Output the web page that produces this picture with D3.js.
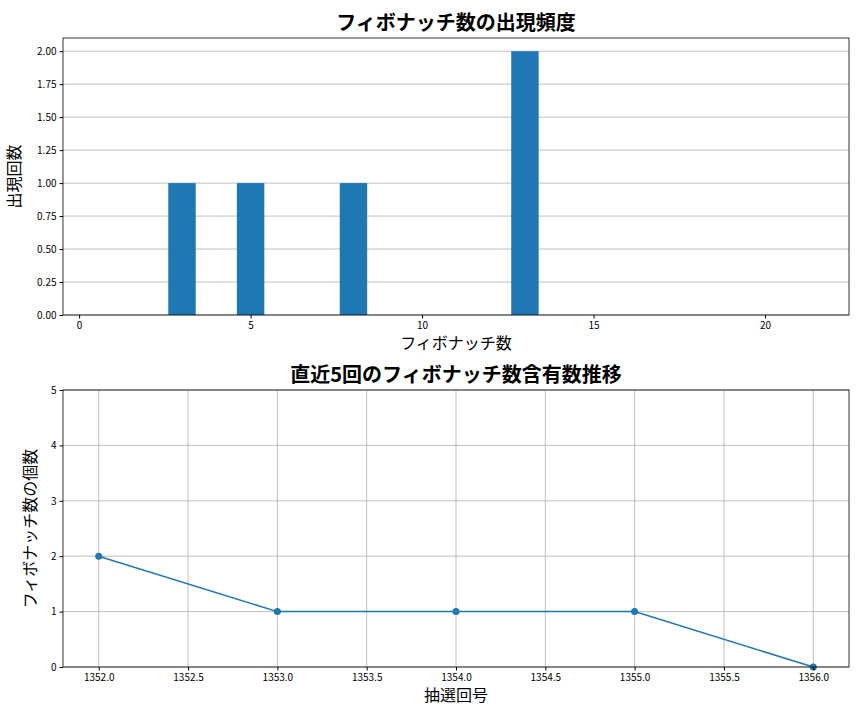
<!doctype html>
<meta charset="utf-8">
<script src="https://cdn.jsdelivr.net/npm/d3@7"></script>
<style>
body { margin: 0; background: #fff; }
text { font-family: "Noto Sans CJK JP", "DejaVu Sans", sans-serif; }
.tick text { font-size: 10px; fill: #000; }
.grid line { stroke: #b0b0b0; stroke-width: 0.8; }
</style>
<svg width="864" height="720"></svg>
<script>
// Top: frequency of Fibonacci numbers
var fibNumbers = [3, 5, 8, 13];
var fibCounts = [1, 1, 1, 2];
var topXTicks = [0, 5, 10, 15, 20];
var topYTicks = [0, 0.25, 0.5, 0.75, 1, 1.25, 1.5, 1.75, 2];

// Bottom: count in last 5 draws
var drawNumbers = [1352, 1353, 1354, 1355, 1356];
var fibInDraw = [2, 1, 1, 1, 0];
var bottomXTicks = [1352, 1352.5, 1353, 1353.5, 1354, 1354.5, 1355, 1355.5, 1356];
var bottomYTicks = [0, 1, 2, 3, 4, 5];

var svg = d3.select('svg');
var blue = '#1f77b4';
var left = 63, right = 849;

function frame(g, x, y) {
  g.append('rect').attr('x', x.range()[0]).attr('y', y.range()[1])
    .attr('width', x.range()[1] - x.range()[0]).attr('height', y.range()[0] - y.range()[1])
    .attr('fill', 'none').attr('stroke', '#000').attr('stroke-width', 0.8);
}
function titles(g, x, y, title, xl, yl) {
  var cx = (x.range()[0] + x.range()[1]) / 2, cy = (y.range()[0] + y.range()[1]) / 2;
  g.append('text').attr('x', cx).attr('y', y.range()[1] - 8).attr('text-anchor', 'middle')
    .attr('font-size', 20).attr('font-weight', 'bold').text(title);
  g.append('text').attr('x', cx).attr('y', y.range()[0] + 34).attr('text-anchor', 'middle')
    .attr('font-size', 16).text(xl);
  g.append('text').attr('transform', 'translate(' + (x.range()[0] - (yl.length > 4 ? 27 : 43)) + ',' + cy + ') rotate(-90)')
    .attr('text-anchor', 'middle').attr('font-size', 16).text(yl);
}

// ---- top chart
var x1 = d3.scaleLinear().domain([-0.47, 22.45]).range([left, right]);
var y1 = d3.scaleLinear().domain([0, 2.1]).range([315, 38]);
var g1 = svg.append('g');
g1.append('g').attr('class', 'grid').selectAll('line').data(topYTicks).join('line')
  .attr('x1', left).attr('x2', right).attr('y1', y1).attr('y2', y1);
g1.selectAll('rect.bar').data(fibNumbers).join('rect').attr('class', 'bar')
  .attr('x', function(d) { return x1(d - 0.4); })
  .attr('width', x1(0.8) - x1(0))
  .attr('y', function(d, i) { return y1(fibCounts[i]); })
  .attr('height', function(d, i) { return y1(0) - y1(fibCounts[i]); })
  .attr('fill', blue);
g1.append('g').attr('transform', 'translate(0,315)')
  .call(d3.axisBottom(x1).tickValues(topXTicks).tickSize(3.5).tickFormat(d3.format('d')))
  .call(function(a) { a.select('.domain').remove(); });
g1.append('g').attr('transform', 'translate(' + left + ',0)')
  .call(d3.axisLeft(y1).tickValues(topYTicks).tickSize(3.5).tickFormat(d3.format('.2f')))
  .call(function(a) { a.select('.domain').remove(); });
frame(g1, x1, y1);
titles(g1, x1, y1, 'フィボナッチ数の出現頻度', 'フィボナッチ数', '出現回数');

// ---- bottom chart
var x2 = d3.scaleLinear().domain([1351.8, 1356.2]).range([left, right]);
var y2 = d3.scaleLinear().domain([0, 5]).range([667, 390]);
var g2 = svg.append('g');
var grid2 = g2.append('g').attr('class', 'grid');
grid2.selectAll('line.h').data(bottomYTicks).join('line').attr('class', 'h')
  .attr('x1', left).attr('x2', right).attr('y1', y2).attr('y2', y2);
grid2.selectAll('line.v').data(bottomXTicks).join('line').attr('class', 'v')
  .attr('y1', 390).attr('y2', 667).attr('x1', x2).attr('x2', x2);
var line = d3.line().x(function(d) { return x2(d); }).y(function(d, i) { return y2(fibInDraw[i]); });
g2.append('path').datum(drawNumbers).attr('d', line).attr('fill', 'none').attr('stroke', blue).attr('stroke-width', 1.5);
g2.selectAll('circle').data(drawNumbers).join('circle')
  .attr('cx', x2).attr('cy', function(d, i) { return y2(fibInDraw[i]); }).attr('r', 3.5).attr('fill', blue);
g2.append('g').attr('transform', 'translate(0,667)')
  .call(d3.axisBottom(x2).tickValues(bottomXTicks).tickSize(3.5).tickFormat(d3.format('.1f')))
  .call(function(a) { a.select('.domain').remove(); });
g2.append('g').attr('transform', 'translate(' + left + ',0)')
  .call(d3.axisLeft(y2).tickValues(bottomYTicks).tickSize(3.5).tickFormat(d3.format('d')))
  .call(function(a) { a.select('.domain').remove(); });
frame(g2, x2, y2);
titles(g2, x2, y2, '直近5回のフィボナッチ数含有数推移', '抽選回号', 'フィボナッチ数の個数');
</script>
